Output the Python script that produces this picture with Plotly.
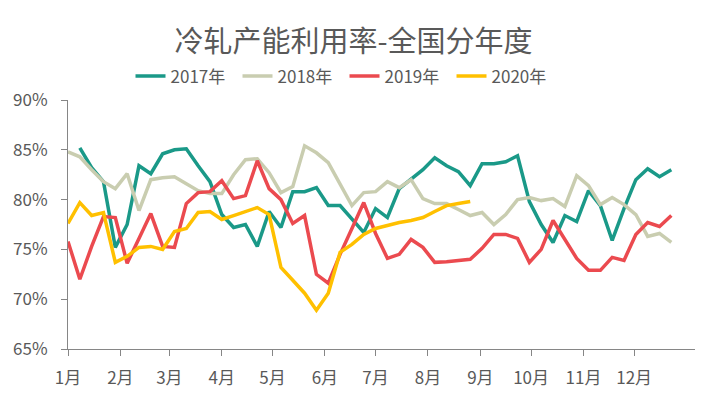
import plotly.graph_objects as go
import pandas as pd

title = "冷轧产能利用率-全国分年度"
series_names = ["2017年", "2018年", "2019年", "2020年"]
colors = ["#1A9988", "#C9CDB0", "#EB4A4F", "#FFC000"]

# weekly values (%), each year mapped onto one calendar
start_2017 = "2020-01-08"
start_other = "2020-01-01"

v2017 = [85.2, 83.2, 81.8, 75.2, 77.5, 83.4, 82.6, 84.6, 85.0, 85.1,
         83.4, 81.8, 78.5, 77.2, 77.5, 75.3, 78.8, 77.2, 80.8, 80.8,
         81.2, 79.4, 79.4, 78.1, 76.7, 79.1, 78.2, 81.1, 82.0, 83.0,
         84.2, 83.4, 82.8, 81.4, 83.6, 83.6, 83.8, 84.4, 79.8, 77.5,
         75.7, 78.4, 77.8, 80.9, 79.4, 75.9, 79.1, 82.0, 83.1, 82.3, 83.0]
v2018 = [84.8, 84.3, 83.0, 81.8, 81.1, 82.6, 78.9, 82.0, 82.2, 82.3,
         81.6, 80.9, 80.6, 80.6, 82.5, 84.0, 84.1, 82.7, 80.7, 81.3,
         85.4, 84.7, 83.7, 81.6, 79.4, 80.7, 80.8, 81.8, 81.2, 82.0,
         80.1, 79.6, 79.6, 79.0, 78.4, 78.7, 77.5, 78.5, 80.0, 80.2,
         79.9, 80.1, 79.3, 82.4, 81.4, 79.5, 80.2, 79.5, 78.5, 76.3,
         76.6, 75.7]
v2019 = [75.8, 72.0, 75.3, 78.3, 78.2, 73.6, 76.1, 78.6, 75.3, 75.2,
         79.6, 80.7, 80.8, 81.9, 80.1, 80.4, 83.9, 81.1, 80.0, 77.6,
         78.4, 72.5, 71.6, 74.5, 77.1, 79.7, 76.6, 74.1, 74.5, 76.0,
         75.2, 73.7, 73.75, 73.85, 74.0, 75.1, 76.5, 76.5, 76.1, 73.7,
         75.0, 77.9, 76.0, 74.1, 72.9, 72.9, 74.2, 73.9, 76.5, 77.7,
         77.3, 78.4]
v2020 = [77.6, 79.7, 78.4, 78.7, 73.7, 74.3, 75.2, 75.3, 75.0, 76.8,
         77.1, 78.7, 78.8, 78.0, 78.4, 78.8, 79.2, 78.5, 73.2, 71.9,
         70.6, 68.9, 70.6, 74.7, 75.5, 76.5, 77.1, 77.4, 77.7, 77.9,
         78.2, 78.8, 79.4, 79.6, 79.8]

month_ticks = pd.date_range("2020-01-01", periods=12, freq="MS")
month_labels = [f"{m}月" for m in range(1, 13)]
y_ticks = [65, 70, 75, 80, 85, 90]
y_labels = [f"{t}%" for t in y_ticks]

values = [v2017, v2018, v2019, v2020]
starts = [start_2017, start_other, start_other, start_other]

font_family = "Noto Sans CJK SC, Noto Sans, sans-serif"
fig = go.Figure()
for name, vals, st, col in zip(series_names, values, starts, colors):
    dates = pd.date_range(st, periods=len(vals), freq="7D")
    fig.add_trace(go.Scatter(
        x=dates, y=vals, name=name, mode="lines",
        line=dict(color=col, width=3.5, shape="linear"),
    ))

fig.update_layout(
    width=707, height=401,
    margin=dict(l=68, r=12, t=100, b=48),
    paper_bgcolor="white", plot_bgcolor="white",
    font=dict(family=font_family, color="#595959", size=17),
    title=dict(text=title, x=0.5, xanchor="center", y=0.895, yanchor="middle",
               font=dict(size=29, color="#595959", family=font_family)),
    legend=dict(orientation="h", x=0.441, xanchor="center", y=1.095, yanchor="middle",
                font=dict(size=17, color="#595959"), itemwidth=30,
                entrywidth=62, entrywidthmode="pixels",
                traceorder="normal", bgcolor="rgba(0,0,0,0)"),
    showlegend=True,
)
fig.update_xaxes(
    type="date", range=["2020-01-01", "2021-01-06"],
    tickvals=month_ticks, ticktext=month_labels,
    showgrid=False, zeroline=False,
    showline=True, linecolor="#868686", linewidth=1,
    ticks="outside", ticklen=6, tickcolor="#868686",
    ticklabelstandoff=8,
    tickfont=dict(size=17, color="#595959"),
)
fig.update_yaxes(
    range=[65, 90], tickvals=y_ticks, ticktext=y_labels,
    showgrid=False, zeroline=False,
    showline=True, linecolor="#868686", linewidth=1,
    ticks="outside", ticklen=6, tickcolor="#868686",
    ticklabelstandoff=10,
    tickfont=dict(size=17, color="#595959"),
)
fig.write_html("out.html", config={"displayModeBar": False},
               post_script="document.body.style.margin='0px';")
